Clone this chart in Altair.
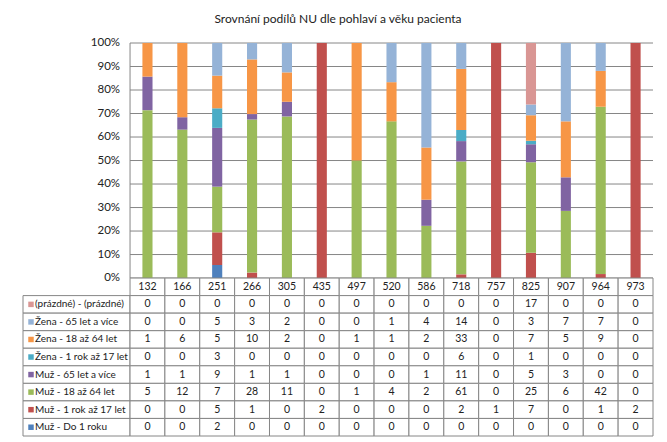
import altair as alt
import pandas as pd

categories = ["132", "166", "251", "266", "305", "435", "497", "520",
              "586", "718", "757", "825", "907", "964", "973"]

# stack order: bottom first
series = ["Muž - Do 1 roku", "Muž - 1 rok až 17 let", "Muž - 18 až 64 let",
          "Muž - 65 let a více", "Žena - 1 rok až 17 let", "Žena - 18 až 64 let",
          "Žena - 65 let a více", "(prázdné) - (prázdné)"]

muz_do1 = [0, 0, 2, 0, 0, 0, 0, 0, 0, 0, 0, 0, 0, 0, 0]
muz_1_17 = [0, 0, 5, 1, 0, 2, 0, 0, 0, 2, 1, 7, 0, 1, 2]
muz_18_64 = [5, 12, 7, 28, 11, 0, 1, 4, 2, 61, 0, 25, 6, 42, 0]
muz_65 = [1, 1, 9, 1, 1, 0, 0, 0, 1, 11, 0, 5, 3, 0, 0]
zena_1_17 = [0, 0, 3, 0, 0, 0, 0, 0, 0, 6, 0, 1, 0, 0, 0]
zena_18_64 = [1, 6, 5, 10, 2, 0, 1, 1, 2, 33, 0, 7, 5, 9, 0]
zena_65 = [0, 0, 5, 3, 2, 0, 0, 1, 4, 14, 0, 3, 7, 7, 0]
prazdne = [0, 0, 0, 0, 0, 0, 0, 0, 0, 0, 0, 17, 0, 0, 0]

values = [muz_do1, muz_1_17, muz_18_64, muz_65, zena_1_17, zena_18_64, zena_65, prazdne]
colors = ["#4F81BD", "#C0504D", "#9BBB59", "#8064A2", "#4BACC6", "#F79646",
          "#95B3D7", "#D99694"]

y_ticks = [0.0, 0.1, 0.2, 0.3, 0.4, 0.5, 0.6, 0.7, 0.8, 0.9, 1.0]
y_tick_labels = ["0%", "10%", "20%", "30%", "40%", "50%", "60%", "70%", "80%", "90%", "100%"]

title = "Srovnání podílů NU  dle pohlaví a věku pacienta"
font = "Lato"
grid_color = "#868686"
text_color = "#222222"
n = len(categories)
label_w = 3.07          # label column width in category units
row_h = 0.672 / 9       # table row height in y units

# ---- bar data: shares of each category's total, stacked
rows = []
for ci, c in enumerate(categories):
    total = sum(v[ci] for v in values)
    cum = 0.0
    for si, s in enumerate(series):
        share = values[si][ci] / total
        rows.append({"cat": c, "bx0": ci + 0.355, "bx1": ci + 0.645,
                     "series": s, "ys0": cum, "ys1": cum + share})
        cum += share
bars_df = pd.DataFrame(rows)
bars_df = bars_df[bars_df["ys1"] > bars_df["ys0"]]

# ---- table data
cells = []
texts = []
for ci, c in enumerate(categories):
    cells.append({"cx0": ci, "cx1": ci + 1, "cy0": 0.0, "cy1": -row_h})
    texts.append({"tx": ci + 0.5, "ty": -row_h / 2, "txt": c})
table_series = list(reversed(series))
table_colors = list(reversed(colors))
table_values = list(reversed(values))
labels = []
for ri, (s, vals, col) in enumerate(zip(table_series, table_values, table_colors), start=1):
    y0 = -ri * row_h
    y1 = -(ri + 1) * row_h
    cells.append({"cx0": -label_w, "cx1": 0, "cy0": y0, "cy1": y1})
    labels.append({"lx": -label_w, "ly": (y0 + y1) / 2, "series": s, "col": col})
    for ci, v in enumerate(vals):
        cells.append({"cx0": ci, "cx1": ci + 1, "cy0": y0, "cy1": y1})
        texts.append({"tx": ci + 0.5, "ty": (y0 + y1) / 2, "txt": str(v)})
cells_df = pd.DataFrame(cells)
texts_df = pd.DataFrame(texts)
labels_df = pd.DataFrame(labels)

grid_df = pd.DataFrame({"g": y_ticks, "lab": y_tick_labels, "gx0": 0, "gx1": n})
axis_df = pd.DataFrame({"ax": [0], "ay0": [0], "ay1": [1]})

xs = alt.Scale(domain=[-label_w, n], nice=False)
ys = alt.Scale(domain=[-9 * row_h, 1], nice=False)

def X(f):
    return alt.X(f, scale=xs, axis=None)

def Y(f):
    return alt.Y(f, scale=ys, axis=None)

grid = alt.Chart(grid_df).mark_rule(color=grid_color, strokeWidth=1).encode(
    x=X("gx0:Q"), x2="gx1:Q", y=Y("g:Q"),
)
ylabels = alt.Chart(grid_df).mark_text(font=font, fontSize=11.5, color=text_color,
                                        align="right", baseline="middle", dx=-10).encode(
    x=X("gx0:Q"), y=Y("g:Q"), text="lab:N"
)
vaxis = alt.Chart(axis_df).mark_rule(color=grid_color).encode(
    x=X("ax:Q"), y=Y("ay0:Q"), y2="ay1:Q"
)
bars = alt.Chart(bars_df).mark_rect().encode(
    x=X("bx0:Q"), x2="bx1:Q", y=Y("ys0:Q"), y2="ys1:Q",
    color=alt.Color("series:N", scale=alt.Scale(domain=series, range=colors), legend=None),
)
cell_rects = alt.Chart(cells_df).mark_rect(fill="white", stroke=grid_color, strokeWidth=1).encode(
    x=X("cx0:Q"), x2="cx1:Q", y=Y("cy0:Q"), y2="cy1:Q"
)
cell_text = alt.Chart(texts_df).mark_text(font=font, fontSize=10.5, color=text_color,
                                           baseline="middle", align="center").encode(
    x=X("tx:Q"), y=Y("ty:Q"), text="txt:N"
)
squares = alt.Chart(labels_df).mark_square(size=30, opacity=1, xOffset=8).encode(
    x=X("lx:Q"), y=Y("ly:Q"),
    color=alt.Color("col:N", scale=None),
)
label_text = alt.Chart(labels_df).mark_text(font=font, fontSize=10, color=text_color,
                                            align="left", baseline="middle", dx=12).encode(
    x=X("lx:Q"), y=Y("ly:Q"), text="series:N"
)

chart = alt.layer(grid, ylabels, vaxis, bars, cell_rects, cell_text, squares, label_text).properties(
    width=630, height=393,
    title=alt.Title(title, font=font, fontSize=12, fontWeight="normal", color=text_color,
                    anchor="middle", offset=11),
    padding={"left": 14, "top": 5, "right": 5, "bottom": 3},
).configure_view(stroke=None)

chart.save("out.html", embed_options={"renderer": "svg", "actions": False})
